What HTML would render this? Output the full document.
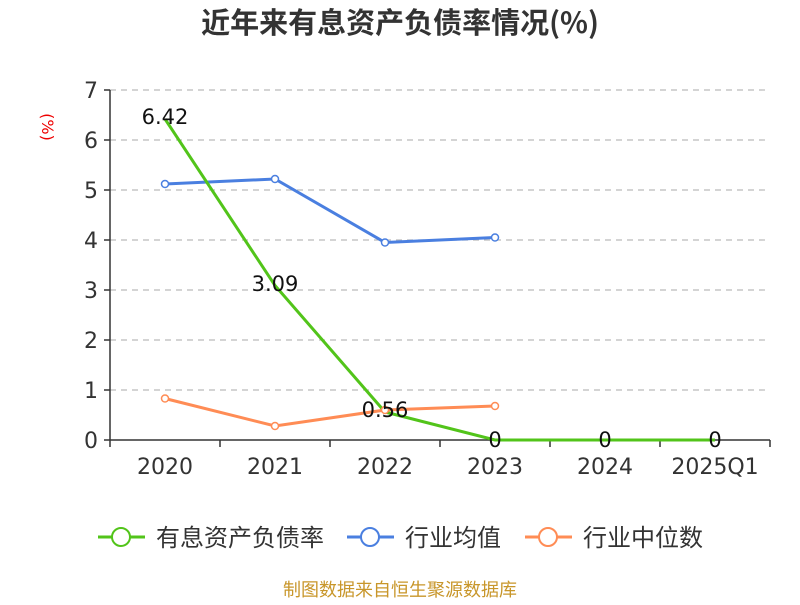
<!DOCTYPE html>
<html><head><meta charset="utf-8"><style>
body{margin:0;background:#fff}
svg text{font-family:"DejaVu Sans","Noto Sans CJK SC",sans-serif}
</style></head><body>
<svg width="800" height="600" xmlns="http://www.w3.org/2000/svg">
<rect width="800" height="600" fill="#fff"/>
<text x="400" y="33" text-anchor="middle" font-size="29" font-weight="bold" fill="#333" style="font-family:'Noto Sans CJK SC',sans-serif">近年来有息资产负债率情况(%)</text>
<text x="42" y="127" text-anchor="middle" font-size="16" fill="#e00" transform="rotate(90 42 127)">(%)</text>
<g stroke="#bbb" stroke-dasharray="6,5" stroke-width="1.2">
<line x1="110" x2="770" y1="90" y2="90"/><line x1="110" x2="770" y1="140" y2="140"/>
<line x1="110" x2="770" y1="190" y2="190"/><line x1="110" x2="770" y1="240" y2="240"/>
<line x1="110" x2="770" y1="290" y2="290"/><line x1="110" x2="770" y1="340" y2="340"/>
<line x1="110" x2="770" y1="390" y2="390"/>
</g>
<g stroke="#333" stroke-width="1.5">
<line x1="110" x2="110" y1="90" y2="440"/><line x1="110" x2="770" y1="440" y2="440"/>
<line x1="104" x2="110" y1="90" y2="90"/><line x1="104" x2="110" y1="140" y2="140"/>
<line x1="104" x2="110" y1="190" y2="190"/><line x1="104" x2="110" y1="240" y2="240"/>
<line x1="104" x2="110" y1="290" y2="290"/><line x1="104" x2="110" y1="340" y2="340"/>
<line x1="104" x2="110" y1="390" y2="390"/><line x1="104" x2="110" y1="440" y2="440"/>
<line x1="110" x2="110" y1="440" y2="447"/><line x1="220" x2="220" y1="440" y2="447"/>
<line x1="330" x2="330" y1="440" y2="447"/><line x1="440" x2="440" y1="440" y2="447"/>
<line x1="550" x2="550" y1="440" y2="447"/><line x1="660" x2="660" y1="440" y2="447"/>
<line x1="770" x2="770" y1="440" y2="447"/>
</g>
<g font-size="22" fill="#333" text-anchor="end">
<text x="98" y="98">7</text><text x="98" y="148">6</text><text x="98" y="198">5</text>
<text x="98" y="248">4</text><text x="98" y="298">3</text><text x="98" y="348">2</text>
<text x="98" y="398">1</text><text x="98" y="448">0</text>
</g>
<g font-size="22" fill="#333" text-anchor="middle">
<text x="165" y="474">2020</text><text x="275" y="474">2021</text><text x="385" y="474">2022</text>
<text x="495" y="474">2023</text><text x="605" y="474">2024</text><text x="715" y="474">2025Q1</text>
</g>
<polyline fill="none" stroke="#ff8c55" stroke-width="3" points="165,398.5 275,426 385,410 495,406"/>
<polyline fill="none" stroke="#4a7fe0" stroke-width="3" points="165,184 275,179 385,242.5 495,237.5"/>
<polyline fill="none" stroke="#52c41a" stroke-width="3" points="165,119 275,285.5 385,412 495,440 605,440 715,440"/>
<g fill="#fff" stroke-width="1.5">
<g stroke="#ff8c55"><circle cx="165" cy="398.5" r="3.5"/><circle cx="275" cy="426" r="3.5"/><circle cx="385" cy="410" r="3.5"/><circle cx="495" cy="406" r="3.5"/></g>
<g stroke="#4a7fe0"><circle cx="165" cy="184" r="3.5"/><circle cx="275" cy="179" r="3.5"/><circle cx="385" cy="242.5" r="3.5"/><circle cx="495" cy="237.5" r="3.5"/></g>
</g>
<g font-size="21" fill="#111" text-anchor="middle">
<text x="165" y="124">6.42</text><text x="275" y="291">3.09</text><text x="385" y="417">0.56</text>
<text x="495" y="447">0</text><text x="605" y="447">0</text><text x="715" y="447">0</text>
</g>
<g font-size="24" fill="#333" style="font-family:'Noto Sans CJK SC',sans-serif">
<line x1="98" x2="145" y1="537" y2="537" stroke="#52c41a" stroke-width="3"/>
<circle cx="121" cy="537" r="9" fill="#fff" stroke="#52c41a" stroke-width="2"/>
<text x="156" y="546">有息资产负债率</text>
<line x1="347" x2="394" y1="537" y2="537" stroke="#4a7fe0" stroke-width="3"/>
<circle cx="370" cy="537" r="9" fill="#fff" stroke="#4a7fe0" stroke-width="2"/>
<text x="405" y="546">行业均值</text>
<line x1="525" x2="572" y1="537" y2="537" stroke="#ff8c55" stroke-width="3"/>
<circle cx="548" cy="537" r="9" fill="#fff" stroke="#ff8c55" stroke-width="2"/>
<text x="583" y="546">行业中位数</text>
</g>
<text x="400" y="596" text-anchor="middle" font-size="18" fill="#c8962a" style="font-family:'Noto Sans CJK SC',sans-serif">制图数据来自恒生聚源数据库</text>
</svg>
</body></html>
